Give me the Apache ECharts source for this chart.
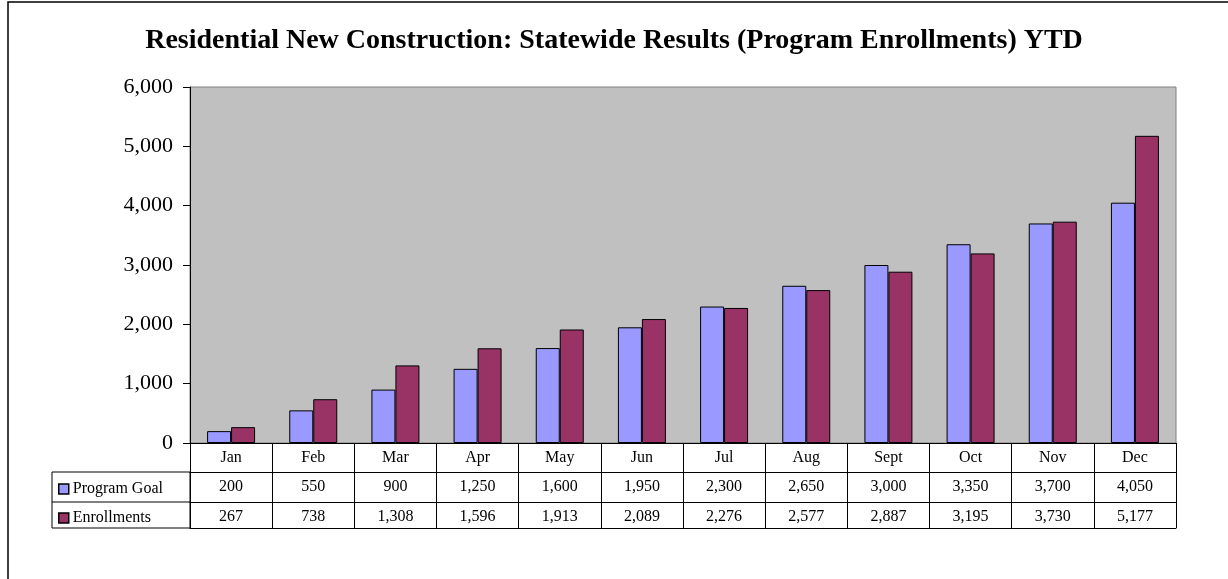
<!DOCTYPE html>
<html>
<head>
<meta charset="utf-8">
<title>Residential New Construction</title>
<style type="text/css">
  html, body { margin: 0; padding: 0; background: #fff; }
  #main { width: 1228px; height: 579px; }
</style>
<script src="https://cdn.jsdelivr.net/npm/echarts@6/dist/echarts.min.js"></script>
</head>
<body>
<div id="main"></div>
<script type="text/javascript">
// data
var months = ['Jan', 'Feb', 'Mar', 'Apr', 'May', 'Jun', 'Jul', 'Aug', 'Sept', 'Oct', 'Nov', 'Dec'];
var programGoal = [200, 550, 900, 1250, 1600, 1950, 2300, 2650, 3000, 3350, 3700, 4050];
var enrollments = [267, 738, 1308, 1596, 1913, 2089, 2276, 2577, 2887, 3195, 3730, 5177];
var yTicks = [0, 1000, 2000, 3000, 4000, 5000, 6000];

var serif = "'Liberation Serif', 'Times New Roman', serif";

function fmt(v) {
  return Number(v).toLocaleString('en-US');
}

var chart = echarts.init(document.getElementById('main'));

// table rows are extra category axes hung under the plot
function tableAxis(values, offset) {
  return {
    type: 'category',
    gridIndex: 0,
    position: 'bottom',
    offset: offset,
    data: values.map(fmt),
    axisLine: { show: true, lineStyle: { color: '#000', width: 1 } },
    axisTick: { show: false },
    axisLabel: { interval: 0, margin: 7, fontSize: 16, color: '#000', fontFamily: serif }
  };
}

var option = {
  animation: false,
  backgroundColor: '#fff',
  title: {
    text: 'Residential New Construction: Statewide Results (Program Enrollments) YTD',
    left: 'center',
    top: 22,
    textStyle: { fontFamily: serif, fontWeight: 'bold', fontSize: 28, color: '#000' }
  },
  legend: {
    orient: 'vertical',
    left: 58,
    top: 481,
    padding: 0,
    itemGap: 13,
    itemWidth: 10,
    itemHeight: 10,
    icon: 'rect',
    itemStyle: { borderColor: '#000', borderWidth: 1.5 },
    textStyle: { fontFamily: serif, fontSize: 16, color: '#000', padding: [0, 0, 0, -1] },
    data: ['Program Goal', 'Enrollments']
  },
  grid: {
    left: 190,
    right: 52,
    top: 87,
    bottom: 136,
    show: true,
    backgroundColor: '#C0C0C0',
    borderColor: '#808080',
    borderWidth: 1
  },
  xAxis: [
    {
      type: 'category',
      data: months,
      axisLine: { lineStyle: { color: '#000', width: 1 } },
      axisTick: { show: true, interval: 0, length: 85, lineStyle: { color: '#000', width: 1 } },
      axisLabel: { interval: 0, margin: 7, fontSize: 16, color: '#000', fontFamily: serif }
    },
    tableAxis(programGoal, 29),
    tableAxis(enrollments, 59),
    {
      type: 'category',
      position: 'bottom',
      offset: 85,
      data: months,
      axisLine: { lineStyle: { color: '#000', width: 1 } },
      axisTick: { show: false },
      axisLabel: { show: false }
    }
  ],
  yAxis: {
    type: 'value',
    min: yTicks[0],
    max: yTicks[yTicks.length - 1],
    interval: 1000,
    axisLine: { show: true, lineStyle: { color: '#000', width: 1 } },
    axisTick: { show: true, length: 7, lineStyle: { color: '#000' } },
    splitLine: { show: false },
    axisLabel: {
      margin: 17,
      fontSize: 22,
      color: '#000',
      fontFamily: serif,
      formatter: fmt
    }
  },
  series: [
    {
      name: 'Program Goal',
      type: 'bar',
      data: programGoal,
      barWidth: 24,
      barGap: '0%',
      itemStyle: { color: '#9999FF', borderColor: '#000', borderWidth: 1 }
    },
    {
      name: 'Enrollments',
      type: 'bar',
      data: enrollments,
      barWidth: 24,
      barGap: '0%',
      itemStyle: { color: '#993366', borderColor: '#000', borderWidth: 1 }
    }
  ],
  graphic: [
    // outer chart frame
    {
      type: 'rect',
      shape: { x: 8, y: 2, width: 1240, height: 600 },
      style: { fill: 'none', stroke: '#000', lineWidth: 1.5 },
      silent: true
    },
    // row header box of the data table
    {
      type: 'rect',
      shape: { x: 52, y: 472, width: 138, height: 56 },
      style: { fill: 'none', stroke: '#000', lineWidth: 1 },
      silent: true
    },
    {
      type: 'line',
      shape: { x1: 52, y1: 502, x2: 190, y2: 502 },
      style: { stroke: '#000', lineWidth: 1 },
      silent: true
    }
  ]
};

chart.setOption(option);
</script>
</body>
</html>
